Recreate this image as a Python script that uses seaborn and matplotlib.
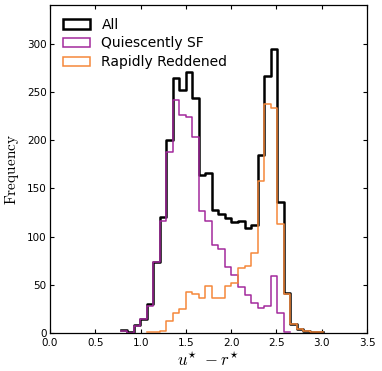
import numpy as np
import pandas as pd
import matplotlib
matplotlib.use("Agg")
import matplotlib.pyplot as plt
from matplotlib.patches import Patch
import seaborn as sns

# shared bin grid
bin_start = 0.78
bin_width = 0.072

# counts per bin (first bin index into the grid, then counts)
all_first = 0
all_counts = [3, 1, 8, 15, 30, 74, 120, 200, 264, 252, 271, 244, 164, 166, 128, 123,
              119, 115, 116, 109, 112, 185, 266, 294, 136, 41, 9, 4, 2, 1, 1]
qsf_first = 0
qsf_counts = [2, 0, 7, 15, 28, 74, 116, 188, 242, 226, 224, 203, 126, 116, 91, 87,
              68, 60, 48, 39, 31, 26, 28, 59, 21, 1]
rr_first = 4
rr_counts = [1, 1, 2, 12, 21, 25, 43, 40, 36, 49, 36, 36, 49, 52, 67, 69, 83, 158,
             237, 233, 113, 40, 9, 4, 2, 1, 1]

labels = ["All", "Quiescently SF", "Rapidly Reddened"]
colors = ["black", "#a3299c", "#f5883a"]
widths = [1.8, 1.1, 1.1]

xticks = [0.0, 0.5, 1.0, 1.5, 2.0, 2.5, 3.0, 3.5]
yticks = [0, 50, 100, 150, 200, 250, 300]


def series_frame(first, counts):
    edges = bin_start + bin_width * np.arange(first, first + len(counts) + 1)
    centers = edges[:-1] + bin_width / 2
    return pd.DataFrame({"x": centers, "n": counts}), edges


plt.rcParams["mathtext.fontset"] = "cm"
plt.rcParams["font.family"] = ["DejaVu Sans"]

fig = plt.figure(figsize=(3.82, 3.71), dpi=100)
ax = fig.add_axes([0.1309, 0.1024, 0.8298, 0.8841])

handles = []
for (first, counts), lab, col, lw in zip(
        [(all_first, all_counts), (qsf_first, qsf_counts), (rr_first, rr_counts)],
        labels, colors, widths):
    df, edges = series_frame(first, counts)
    sns.histplot(data=df, x="x", weights="n", binwidth=bin_width,
                 binrange=(edges[0], edges[-1] - 1e-9), element="step",
                 fill=False, color=col, linewidth=lw, ax=ax)
    handles.append(Patch(facecolor="none", edgecolor=col, linewidth=lw, label=lab))

ax.set_xlim(0, 3.5)
ax.set_ylim(0, 340)
ax.set_xticks(xticks)
ax.set_xticklabels([f"{t:.1f}" for t in xticks])
ax.set_yticks(yticks)
ax.tick_params(direction="in", length=3, width=0.8, labelsize=7.5,
               top=True, right=True, pad=2.5)
ax.tick_params(axis="x", pad=3.5)
for s in ax.spines.values():
    s.set_linewidth(0.9)

ax.set_xlabel(r"$u^{\star}\ -r^{\star}$", fontsize=12, labelpad=3)
ax.set_ylabel(r"$\mathrm{Frequency}$", fontsize=11, labelpad=4)

ax.legend(handles=handles, loc="upper left", frameon=False, fontsize=10,
          labelspacing=0.35, handlelength=2.0, handletextpad=0.8)

fig.savefig("out.png", dpi=100)
